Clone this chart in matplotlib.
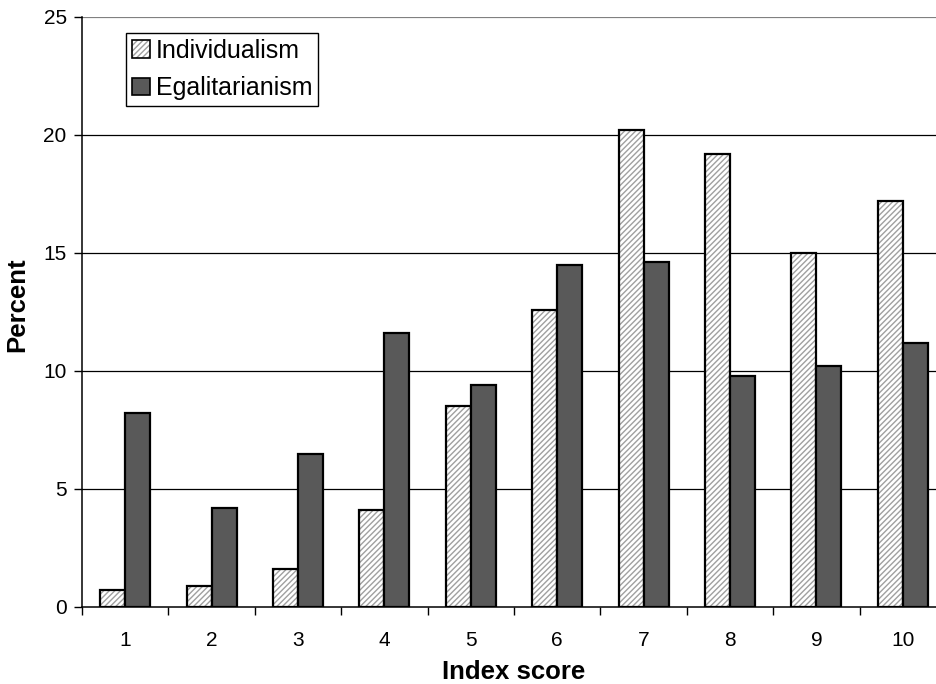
import numpy as np
import matplotlib
matplotlib.use('Agg')
import matplotlib.pyplot as plt
from matplotlib.patches import Patch
from matplotlib.legend_handler import HandlerTuple

plt.rcParams['font.family'] = ['Liberation Sans', 'DejaVu Sans']
plt.rcParams['hatch.linewidth'] = 1.0

scores = ['1', '2', '3', '4', '5', '6', '7', '8', '9', '10']
individualism = [0.7, 0.9, 1.6, 4.1, 8.5, 12.6, 20.2, 19.2, 15.0, 17.2]
egalitarianism = [8.2, 4.2, 6.5, 11.6, 9.4, 14.5, 14.6, 9.8, 10.2, 11.2]

fig = plt.figure(figsize=(9.37, 6.84), dpi=100)
ax = fig.add_axes([82 / 937, 77 / 684, 864 / 937, 590 / 684])

x = np.arange(len(scores))
w = 0.29

# hatched bars: gray hatch first, black outline on top
ax.bar(x - w / 2, individualism, w, color='white', edgecolor='#a0a0a0',
       hatch='//////', linewidth=0, zorder=3)
ax.bar(x - w / 2, individualism, w, color='none', edgecolor='black',
       linewidth=1.6, zorder=4)
ax.bar(x + w / 2, egalitarianism, w, color='#595959', edgecolor='black',
       linewidth=1.6, zorder=4)

ax.set_xlim(-0.5, len(scores) - 0.5)
ax.set_ylim(0, 25)
ax.set_yticks([0, 5, 10, 15, 20, 25])
ax.set_xticks(x)
ax.set_xticklabels(scores)
ax.set_xticks(np.arange(len(scores) + 1) - 0.5, minor=True)
ax.tick_params(axis='x', which='major', length=0, labelsize=15, pad=17)
ax.tick_params(axis='x', which='minor', length=6, width=1, direction='out')
ax.tick_params(axis='y', length=6, width=1, labelsize=15, pad=5)

for y in [5, 10, 15, 20]:
    ax.axhline(y, color='black', linewidth=0.9, zorder=1)
ax.axhline(25, color='#808080', linewidth=1.6, zorder=1)

for s in ['top', 'right']:
    ax.spines[s].set_visible(False)
ax.spines['left'].set_linewidth(1.1)
ax.spines['bottom'].set_linewidth(1.1)

ax.set_ylabel('Percent', fontsize=18.5, fontweight='bold')
ax.set_xlabel('Index score', fontsize=18.5, fontweight='bold')
ax.xaxis.set_label_coords(0.5, -0.110)
ax.yaxis.set_label_coords(-0.0747, 0.512)
ax.xaxis.label.set_va('center')
ax.yaxis.label.set_va('center')

h1 = (Patch(facecolor='white', edgecolor='#a0a0a0', hatch='//////', linewidth=0),
      Patch(facecolor='none', edgecolor='black', linewidth=1.2))
h2 = Patch(facecolor='#595959', edgecolor='black', linewidth=1.2)
leg = ax.legend([h1, h2], ['Individualism', 'Egalitarianism'],
                handler_map={tuple: HandlerTuple(ndivide=1)},
                loc='upper left', bbox_to_anchor=(44 / 864, 574 / 590),
                fontsize=18, frameon=True, fancybox=False, framealpha=1,
                edgecolor='black', handlelength=0.72, handleheight=0.72,
                handletextpad=0.25, borderpad=0.22, labelspacing=0.55,
                borderaxespad=0)
leg.get_frame().set_linewidth(1.0)

fig.savefig('out.png', dpi=100)
